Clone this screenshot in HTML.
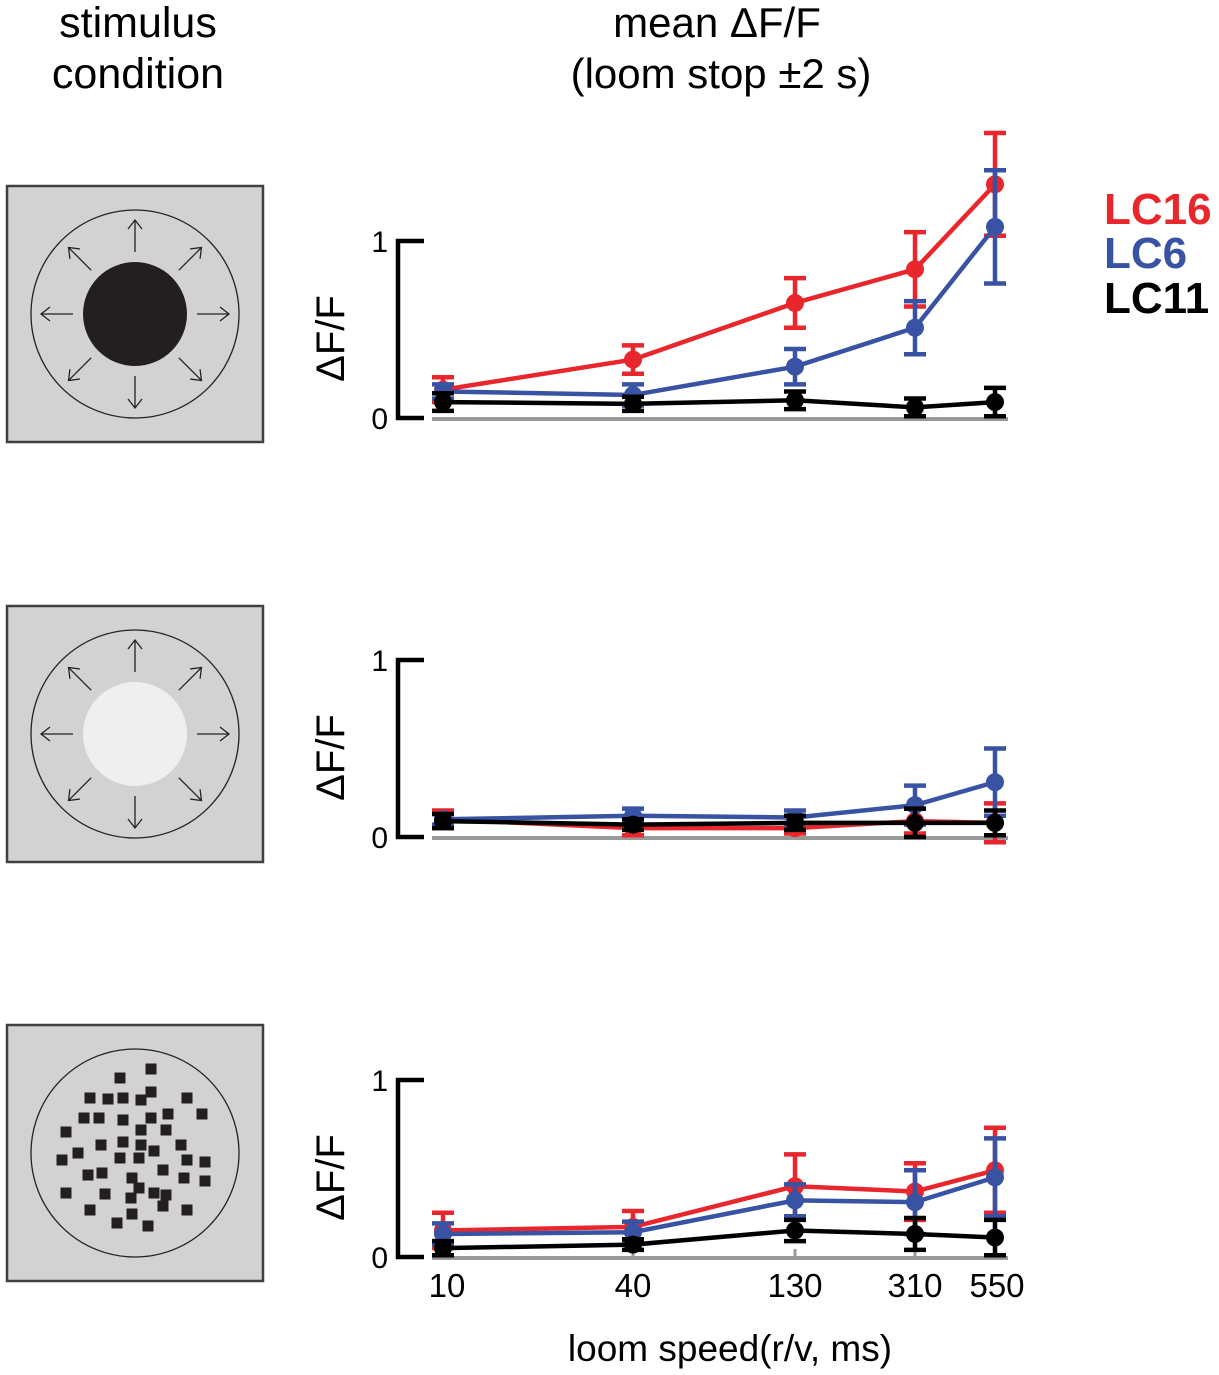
<!DOCTYPE html>
<html><head><meta charset="utf-8">
<style>
html,body{margin:0;padding:0;background:#fff;}
svg{display:block;font-family:"Liberation Sans",Arial,sans-serif;}
</style></head>
<body>
<svg id="fig" width="1219" height="1375" viewBox="0 0 1219 1375" xmlns="http://www.w3.org/2000/svg">
<text x="138" y="37" font-size="43" text-anchor="middle">stimulus</text>
<text x="138" y="88" font-size="43" text-anchor="middle">condition</text>
<text x="717" y="37" font-size="42" text-anchor="middle">mean ΔF/F</text>
<text x="721" y="88" font-size="42" text-anchor="middle">(loom stop ±2 s)</text>
<g>
<text x="1104" y="224" font-size="44" font-weight="bold" fill="#e8262b">LC16</text>
<text x="1104" y="268" font-size="44" font-weight="bold" fill="#3953a4">LC6</text>
<text x="1104" y="313" font-size="44" font-weight="bold" fill="#000">LC11</text>
</g>
<text x="730" y="1361" font-size="37" text-anchor="middle">loom speed(r/v, ms)</text>
<g id="stims"></g>
<g id="charts"></g>
</svg>
<script>
const categories = ["10","40","130","310","550"];
const seriesNames = ["LC16","LC6","LC11"];
const p1_LC16 = [0.16,0.33,0.65,0.84,1.32];
const p1_LC16_err = [0.07,0.08,0.14,0.21,0.29];
const p1_LC6 = [0.15,0.13,0.29,0.51,1.08];
const p1_LC6_err = [0.04,0.06,0.10,0.15,0.32];
const p1_LC11 = [0.09,0.08,0.10,0.06,0.09];
const p1_LC11_err = [0.05,0.04,0.05,0.05,0.08];
const p2_LC16 = [0.10,0.05,0.05,0.09,0.08];
const p2_LC16_err = [0.05,0.04,0.03,0.07,0.11];
const p2_LC6 = [0.10,0.12,0.11,0.18,0.31];
const p2_LC6_err = [0.03,0.04,0.04,0.11,0.19];
const p2_LC11 = [0.09,0.07,0.08,0.08,0.08];
const p2_LC11_err = [0.04,0.03,0.04,0.08,0.07];
const p3_LC16 = [0.15,0.17,0.40,0.37,0.49];
const p3_LC16_err = [0.10,0.09,0.18,0.16,0.24];
const p3_LC6 = [0.13,0.14,0.32,0.31,0.45];
const p3_LC6_err = [0.06,0.06,0.09,0.18,0.22];
const p3_LC11 = [0.05,0.07,0.15,0.13,0.11];
const p3_LC11_err = [0.04,0.03,0.06,0.09,0.10];
const yTicks = ["0","1"];

const NS="http://www.w3.org/2000/svg";
function mk(tag, attrs, parent){const e=document.createElementNS(NS,tag);for(const k in attrs)e.setAttribute(k,attrs[k]);parent.appendChild(e);return e;}
const xPix=[443,633,795,915,995];
function xScale(i){return xPix[i];}
const colors={LC16:"#e8262b",LC6:"#3953a4",LC11:"#000"};
const panels=[
 {off:0, data:{LC16:[p1_LC16,p1_LC16_err],LC6:[p1_LC6,p1_LC6_err],LC11:[p1_LC11,p1_LC11_err]}},
 {off:419, data:{LC16:[p2_LC16,p2_LC16_err],LC6:[p2_LC6,p2_LC6_err],LC11:[p2_LC11,p2_LC11_err]}},
 {off:839, data:{LC16:[p3_LC16,p3_LC16_err],LC6:[p3_LC6,p3_LC6_err],LC11:[p3_LC11,p3_LC11_err]}}
];
const charts=document.getElementById('charts');
panels.forEach((p,pi)=>{
 const y0=418+p.off, y1=241+p.off;
 const yScale=v=>y0-(v)*(y0-y1);
 const g=mk('g',{},charts);
 
 
 const base=mk('line',{x1:432,x2:1008,y1:y0+1,y2:y0+1,stroke:'#999',"stroke-width":4},g);
 
 
 if(pi===2){categories.forEach((c,i)=>{const t=mk('line',{x1:xScale(i),x2:xScale(i),y1:y0-8,y2:y0+1,stroke:'#999',"stroke-width":3},g);
  
  
  const lb=mk('text',{x:xScale(i)+(i===4?2:(i===0?4:0)),y:1297,"font-size":33,"text-anchor":"middle"},g);lb.textContent=c;
  
  });}
 const br=mk('path',{d:`M424 ${y1} H398 V${y0} H424`,fill:'none',stroke:'#000',"stroke-width":4.5},g);
 
 
 yTicks.forEach(t=>{const tx=mk('text',{x:388,y:yScale(+t)+11,"font-size":30,"text-anchor":"end"},g);tx.textContent=t;
  
  });
 const yl=mk('text',{x:0,y:0,"font-size":40,"text-anchor":"middle",transform:`translate(344 ${(y0+y1)/2+9}) rotate(-90)`},g);yl.textContent='ΔF/F';
 
 
 seriesNames.forEach(s=>{
  const [vals,errs]=p.data[s];const col=colors[s];
  const sg=mk('g',{},g);
  
  
  mk('polyline',{points:vals.map((v,i)=>xScale(i)+','+yScale(v)).join(' '),fill:'none',stroke:col,"stroke-width":4.5},sg);
  vals.forEach((v,i)=>{
   const x=xScale(i),e=errs[i];
   const eb=mk('path',{d:`M${x} ${yScale(v-e)} V${yScale(v+e)} M${x-11} ${yScale(v+e)} H${x+11} M${x-11} ${yScale(v-e)} H${x+11}`,stroke:col,"stroke-width":4.5,fill:'none'},sg);
   
   
   const pt=mk('circle',{cx:x,cy:yScale(v),r:9,fill:col},sg);
   
   
  });
 });
});
// stimuli
const stims=document.getElementById('stims');
const stimTops=[186,606,1025];
const squares=[[151,1069],[120,1078],[90,1098],[108,1099],[123,1098],[141,1100],[151,1092],[187,1098],[151,1118],[168,1114],[202,1114],[84,1118],[99,1118],[66,1132],[123,1120],[141,1130],[166,1130],[181,1145],[101,1145],[123,1142],[141,1145],[154,1151],[78,1153],[62,1160],[120,1158],[139,1158],[187,1160],[205,1162],[88,1175],[102,1173],[132,1178],[163,1170],[184,1178],[205,1181],[66,1193],[105,1194],[139,1188],[131,1198],[154,1193],[166,1195],[90,1210],[163,1206],[187,1210],[132,1214],[117,1223],[148,1226]];
stimTops.forEach((t,si)=>{
 const g=mk('g',{},stims);
 
 
 mk('rect',{x:7,y:t,width:256,height:256,fill:'#d2d2d2',stroke:'#404040',"stroke-width":2.5},g);
 const cx=135,cy=t+128;
 mk('circle',{cx:cx,cy:cy,r:104,fill:'none',stroke:'#222',"stroke-width":1.3},g);
 if(si<2){
  mk('circle',{cx:cx,cy:cy,r:52,fill:si===0?'#231f20':'#efefef'},g);
  for(let k=0;k<8;k++){const a=k*Math.PI/4;const c=Math.cos(a),s=Math.sin(a);
   const x1=cx+62*c,y1=cy+62*s,x2=cx+94*c,y2=cy+94*s;
   const px=-s,py=c;
   mk('path',{d:`M${x1} ${y1} L${x2} ${y2} M${x2-9*c+7*px} ${y2-9*s+7*py} L${x2} ${y2} L${x2-9*c-7*px} ${y2-9*s-7*py}`,stroke:'#222',"stroke-width":1.3,fill:'none'},g);}
 } else {
  squares.forEach(q=>mk('rect',{x:q[0]-5.5,y:q[1]-5.5,width:11,height:11,fill:'#231f20'},g));
 }
});
</script>
</body></html>
